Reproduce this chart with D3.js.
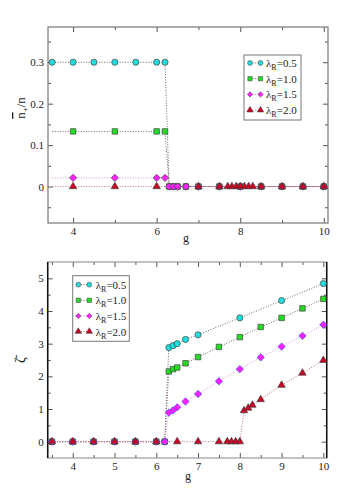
<!DOCTYPE html>
<html>
<head>
<script src="https://d3js.org/d3.v7.min.js"></script>
<style>
  body { margin: 0; background: #fff; }
  svg text { font-family: "Liberation Serif", "DejaVu Serif", serif !important; }
</style>
</head>
<body>
<script>
// labels of the four series
var lambdas = ["0.5", "1.0", "1.5", "2.0"];
var fills = ["#22dddd", "#22dd22", "#ff22ff", "#cc0022"];
var lineColors = ["#666666", "#806060", "#e090e0", "#c07080"];
var shapes = [d3.symbolCircle, d3.symbolSquare, d3.symbolDiamond2, d3.symbolTriangle];

// top panel: n+/n vs g
var topG = [
  [3.5, 4, 4.5, 5, 5.5, 6, 6.2, 6.3, 6.4, 6.5, 6.7, 7, 7.5, 8, 8.5, 9, 9.5, 10],
  [3.5, 4, 5, 6, 6.2, 6.3, 6.4, 6.5, 6.7, 7, 7.5, 8, 8.5, 9, 9.5, 10],
  [3.5, 4, 5, 6, 6.2, 6.3, 6.4, 6.5, 6.7, 7, 7.5, 8, 8.5, 9, 9.5, 10],
  [3.5, 4, 5, 6, 7, 7.5, 7.7, 7.8, 7.9, 8, 8.1, 8.2, 8.3, 8.5, 9, 9.5, 10]
];
var topV = [
  [0.3, 0.3, 0.3, 0.3, 0.3, 0.3, 0.3, 0, 0, 0, 0, 0, 0, 0, 0, 0, 0, 0],
  [0.133, 0.133, 0.133, 0.133, 0.133, 0, 0, 0, 0, 0, 0, 0, 0, 0, 0, 0],
  [0.021, 0.021, 0.021, 0.021, 0.021, 0, 0, 0, 0, 0, 0, 0, 0, 0, 0, 0],
  [0, 0, 0, 0, 0, 0, 0, 0, 0, 0, 0, 0, 0, 0, 0, 0, 0]
];
// first point of the line that carries a marker (green/magenta/red start at g=4)
var topMarkFrom = [0, 1, 1, 1];

// bottom panel: zeta vs g
var botG = [
  [3.5, 4, 4.5, 5, 5.5, 6, 6.2, 6.3, 6.4, 6.5, 6.7, 7, 8, 9, 10],
  [3.5, 4, 4.5, 5, 5.5, 6, 6.2, 6.3, 6.4, 6.5, 6.7, 7, 7.5, 8, 8.5, 9, 9.5, 10],
  [3.5, 4, 4.5, 5, 5.5, 6, 6.2, 6.3, 6.4, 6.5, 6.7, 7, 7.5, 8, 8.5, 9, 9.5, 10],
  [3.5, 4, 4.5, 5, 5.5, 6, 6.5, 7, 7.5, 7.7, 7.8, 7.9, 8, 8.1, 8.2, 8.3, 8.5, 9, 9.5, 10]
];
var botV = [
  [0, 0, 0, 0, 0, 0, 0, 2.88, 2.94, 3.0, 3.13, 3.27, 3.79, 4.32, 4.84],
  [0, 0, 0, 0, 0, 0, 0, 2.15, 2.22, 2.27, 2.4, 2.59, 2.9, 3.2, 3.51, 3.79, 4.08, 4.37],
  [0, 0, 0, 0, 0, 0, 0, 0.89, 0.96, 1.05, 1.23, 1.46, 1.85, 2.22, 2.58, 2.91, 3.24, 3.58],
  [0, 0, 0, 0, 0, 0, 0, 0, 0, 0, 0, 0, 0, 0.95, 1.03, 1.12, 1.29, 1.73, 2.1, 2.49]
];

var svg = d3.select("body").append("svg")
  .attr("width", 360).attr("height", 496);

function panel(o) {
  var x = d3.scaleLinear().domain(o.xd).range([o.l, o.r]);
  var y = d3.scaleLinear().domain(o.yd).range([o.b, o.t]);
  var g = svg.append("g");

  // ticks, all pointing inward, on all four sides
  function ax(gen, tr, vals, size, fmt) {
    var a = gen.tickValues(vals).tickSize(size).tickPadding(4);
    a.tickFormat(fmt || "");
    var s = g.append("g").attr("transform", tr).call(a);
    s.attr("font-family", null);
    s.select(".domain").remove();
    s.selectAll("line").attr("stroke", "#555");
    s.selectAll("text").attr("font-size", 11).attr("fill", "#222");
    return s;
  }
  var h = o.b - o.t, w = o.r - o.l;
  ax(d3.axisBottom(x), "translate(0," + o.b + ")", o.xMajor, -5, o.xFmt);
  ax(d3.axisBottom(x), "translate(0," + o.b + ")", o.xMinor, -3);
  ax(d3.axisTop(x), "translate(0," + o.t + ")", o.xMajor, -5);
  ax(d3.axisTop(x), "translate(0," + o.t + ")", o.xMinor, -3);
  ax(d3.axisLeft(y), "translate(" + o.l + ",0)", o.yMajor, -5, o.yFmt);
  ax(d3.axisLeft(y), "translate(" + o.l + ",0)", o.yMinor, -3);
  ax(d3.axisRight(y), "translate(" + o.r + ",0)", o.yMajor, -5);
  ax(d3.axisRight(y), "translate(" + o.r + ",0)", o.yMinor, -3);

  g.append("rect").attr("x", o.l).attr("y", o.t).attr("width", w).attr("height", h)
    .attr("fill", "none").attr("stroke", o.frame).attr("stroke-width", 1.2);
  if (o.sideFrame) {
    g.append("line").attr("x1", o.l).attr("x2", o.l).attr("y1", o.t).attr("y2", o.b)
      .attr("stroke", o.sideFrame).attr("stroke-width", 1.5);
    g.append("line").attr("x1", o.r).attr("x2", o.r).attr("y1", o.t).attr("y2", o.b)
      .attr("stroke", o.sideFrame).attr("stroke-width", 1.5);
  }

  var line = d3.line().x(function (d) { return x(d[0]); }).y(function (d) { return y(d[1]); });
  for (var k = 0; k < 4; k++) {
    var pts = o.gs[k].map(function (v, i) { return [v, o.vs[k][i]]; });
    g.append("path").datum(pts).attr("d", line)
      .attr("fill", "none").attr("stroke", lineColors[k])
      .attr("stroke-width", 1).attr("stroke-dasharray", "1,1.6");
  }
  // markers: series drawn in order, so red ends up on top
  for (var k = 0; k < 4; k++) {
    var pts = o.gs[k].map(function (v, i) { return [v, o.vs[k][i], i]; });
    var from = o.markFrom ? o.markFrom[k] : 0;
    g.selectAll(".m" + k).data(pts.filter(function (d) { return d[2] >= from; }))
      .enter().append("path")
      .attr("transform", function (d) { return "translate(" + x(d[0]) + "," + y(d[1]) + ")"; })
      .attr("d", d3.symbol().type(shapes[k]).size([30, 30, 34, 24][k]))
      .attr("fill", fills[k])
      .attr("stroke", k === 2 && o.diamondBlue ? "#4444ee" : "#444")
      .attr("stroke-width", 0.7);
  }

  // legend
  var L = o.legend;
  g.append("rect").attr("x", L.x).attr("y", L.y).attr("width", L.w).attr("height", L.h)
    .attr("fill", "#fff").attr("stroke", "#777").attr("stroke-width", 1);
  lambdas.forEach(function (lam, k) {
    var yy = L.y + L.y0 + k * L.dy;
    g.append("line").attr("x1", L.x + L.s1).attr("x2", L.x + L.s2).attr("y1", yy).attr("y2", yy)
      .attr("stroke", lineColors[k]).attr("stroke-dasharray", "1,1.6");
    [L.s1, L.s2].forEach(function (sx) {
      g.append("path").attr("transform", "translate(" + (L.x + sx) + "," + yy + ")")
        .attr("d", d3.symbol().type(shapes[k]).size(18))
        .attr("fill", fills[k]).attr("stroke", "#444").attr("stroke-width", 0.6);
    });
    var t = g.append("text").attr("x", L.x + L.tx).attr("y", yy + 4)
      .attr("font-size", 11).attr("fill", "#222");
    t.append("tspan").text("λ");
    t.append("tspan").attr("font-size", 8).attr("dy", 3).text("R");
    t.append("tspan").attr("dy", -3).text("=" + lam);
  });

  // x title
  g.append("text").attr("x", o.gx).attr("y", o.gy).attr("text-anchor", "middle")
    .attr("font-size", 12).attr("fill", "#222").text("g");
  return g;
}

var top = panel({
  xd: [3.4, 10.1], yd: [-0.088, 0.385], l: 48, r: 328, t: 27, b: 223,
  xMajor: [4, 6, 8, 10], xMinor: [5, 7, 9], xFmt: d3.format("d"),
  yMajor: [0, 0.1, 0.2, 0.3], yMinor: [-0.05, 0.05, 0.15, 0.25, 0.35],
  yFmt: function (d) { return d === 0 ? "0" : d3.format(".1f")(d); },
  gs: topG, vs: topV, markFrom: topMarkFrom, frame: "#777",
  legend: { x: 244, y: 55, w: 57, h: 65, y0: 8, dy: 15.7, s1: 6, s2: 16.5, tx: 22 },
  gx: 186, gy: 242
});

var bot = panel({
  xd: [3.4, 10.08], yd: [-0.5, 5.5], l: 47.7, r: 326.7, t: 262, b: 458,
  xMajor: [4, 5, 6, 7, 8, 9, 10], xMinor: [3.5, 4.5, 5.5, 6.5, 7.5, 8.5, 9.5], xFmt: d3.format("d"),
  yMajor: [0, 1, 2, 3, 4, 5], yMinor: [0.5, 1.5, 2.5, 3.5, 4.5],
  yFmt: d3.format("d"),
  gs: botG, vs: botV, frame: "#999", sideFrame: "#111", diamondBlue: true,
  legend: { x: 72.7, y: 275.7, w: 56.6, h: 65.6, y0: 9, dy: 15.6, s1: 5.6, s2: 16.6, tx: 23 },
  gx: 188, gy: 480
});

// y titles
var yt1 = svg.append("text").attr("transform", "translate(25,108) rotate(-90)")
  .attr("text-anchor", "middle").attr("font-size", 13).attr("fill", "#222");
yt1.append("tspan").text("n").attr("text-decoration", "overline");
yt1.append("tspan").attr("font-size", 9).attr("dy", 3).text("+");
yt1.append("tspan").attr("dy", -3).text("/n");

svg.append("text").attr("transform", "translate(25,360) rotate(-90)")
  .attr("text-anchor", "middle").attr("font-size", 14).attr("fill", "#222")
  .text("ζ\u0304");
</script>
</body>
</html>
